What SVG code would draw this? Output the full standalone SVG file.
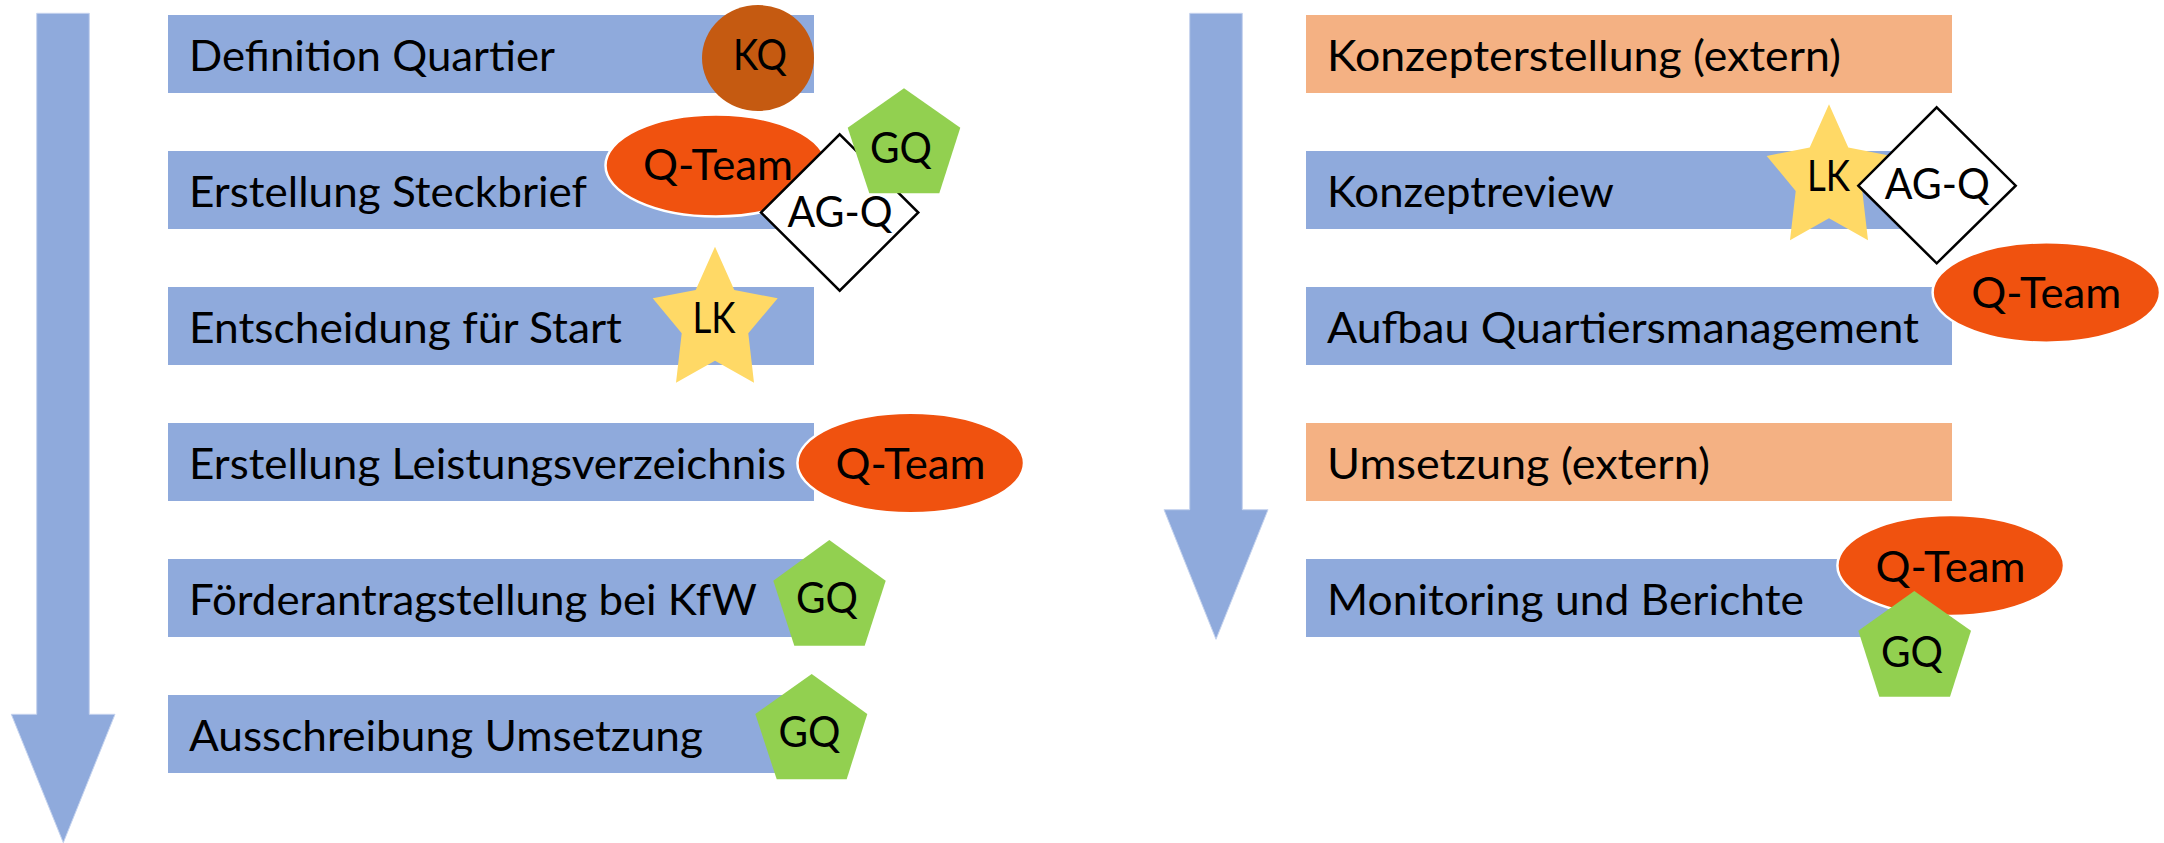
<svg xmlns="http://www.w3.org/2000/svg" width="2164" height="843" viewBox="0 0 2164 843">
<style>
text{font-family:Lato,"Liberation Sans",sans-serif;font-size:43px;fill:#000}
.lbl{text-anchor:start}
.c{text-anchor:middle}
.step{fill:#8FAADC}
.ext{fill:#F4B183}
.arrow{fill:#8FAADC;stroke:#C5D3EE;stroke-width:1}
.kq{fill:#C55A11}
.qt{fill:#F0520F;stroke:#FFFFFF;stroke-width:2.5}
.gq{fill:#92D050}
.lk{fill:#FFD966}
.ag{fill:#FFFFFF;stroke:#000;stroke-width:2.5}
</style>
<rect width="2164" height="843" fill="#FFFFFF"/>
<g id="connectors">
<polygon class="arrow" points="36.7,13.3 89.3,13.3 89.3,714.3 115,714.3 63.3,842.7 11.3,714.3 36.7,714.3"/>
<polygon class="arrow" points="1189.7,13.3 1242.3,13.3 1242.3,509.7 1268,509.7 1216,639.3 1164,509.7 1189.7,509.7"/>
</g>
<g id="step-definition-quartier">
<rect class="step" x="168" y="15" width="646" height="78"/>
<text class="lbl" x="189" y="70.5" textLength="366" lengthAdjust="spacingAndGlyphs">Definition Quartier</text>
</g>
<g id="step-erstellung-steckbrief">
<rect class="step" x="168" y="151" width="646" height="78"/>
<text class="lbl" x="189" y="206.5" textLength="398" lengthAdjust="spacingAndGlyphs">Erstellung Steckbrief</text>
</g>
<g id="step-entscheidung">
<rect class="step" x="168" y="287" width="646" height="78"/>
<text class="lbl" x="189" y="342.5" textLength="433" lengthAdjust="spacingAndGlyphs">Entscheidung für Start</text>
</g>
<g id="step-leistungsverzeichnis">
<rect class="step" x="168" y="423" width="646" height="78"/>
<text class="lbl" x="189" y="478.5" textLength="597" lengthAdjust="spacingAndGlyphs">Erstellung Leistungsverzeichnis</text>
</g>
<g id="step-foerderantrag">
<rect class="step" x="168" y="559" width="646" height="78"/>
<text class="lbl" x="189" y="614.5" textLength="568" lengthAdjust="spacingAndGlyphs">Förderantragstellung bei KfW</text>
</g>
<g id="step-ausschreibung">
<rect class="step" x="168" y="695" width="646" height="78"/>
<text class="lbl" x="189" y="750.5" textLength="514" lengthAdjust="spacingAndGlyphs">Ausschreibung Umsetzung</text>
</g>
<g id="step-konzepterstellung">
<rect class="ext" x="1306" y="15" width="646" height="78"/>
<text class="lbl" x="1327" y="70.5" textLength="514" lengthAdjust="spacingAndGlyphs">Konzepterstellung (extern)</text>
</g>
<g id="step-konzeptreview">
<rect class="step" x="1306" y="151" width="646" height="78"/>
<text class="lbl" x="1327" y="206.5" textLength="287" lengthAdjust="spacingAndGlyphs">Konzeptreview</text>
</g>
<g id="step-aufbau">
<rect class="step" x="1306" y="287" width="646" height="78"/>
<text class="lbl" x="1327" y="342.5" textLength="592" lengthAdjust="spacingAndGlyphs">Aufbau Quartiersmanagement</text>
</g>
<g id="step-umsetzung">
<rect class="ext" x="1306" y="423" width="646" height="78"/>
<text class="lbl" x="1327" y="478.5" textLength="383" lengthAdjust="spacingAndGlyphs">Umsetzung (extern)</text>
</g>
<g id="step-monitoring">
<rect class="step" x="1306" y="559" width="646" height="78"/>
<text class="lbl" x="1327" y="614.5" textLength="477" lengthAdjust="spacingAndGlyphs">Monitoring und Berichte</text>
</g>
<g id="role-kq-1">
<ellipse class="kq" cx="758" cy="58" rx="56" ry="53"/>
<text class="c" x="760" y="70" textLength="54" lengthAdjust="spacingAndGlyphs">KQ</text>
</g>
<g id="role-qteam-1">
<ellipse class="qt" cx="716" cy="165.5" rx="110.5" ry="51"/>
<text class="c" x="718" y="180" textLength="150" lengthAdjust="spacingAndGlyphs">Q-Team</text>
</g>
<g id="role-agq-1">
<polygon class="ag" points="839.7,134.3 918.3,212.5 839.7,290.7 761,212.5"/>
<text class="c" x="840" y="226.7" textLength="105" lengthAdjust="spacingAndGlyphs">AG-Q</text>
</g>
<g id="role-gq-1">
<polygon class="gq" points="904,88.3 960.3,127.7 939.3,193.3 869.3,193.3 847.7,127.7"/>
<text class="c" x="901" y="163.3" textLength="62" lengthAdjust="spacingAndGlyphs">GQ</text>
</g>
<g id="role-lk-1">
<polygon class="lk" points="715,246.7 734.3,290 777.7,298.3 748.3,333.3 754,382.7 715,360.7 676,382.7 681.7,333.3 652.7,298.3 695.7,290"/>
<text class="c" x="714" y="333.3" textLength="43" lengthAdjust="spacingAndGlyphs">LK</text>
</g>
<g id="role-qteam-2">
<ellipse class="qt" cx="910.7" cy="463" rx="113.3" ry="50.3"/>
<text class="c" x="910.5" y="479" textLength="150" lengthAdjust="spacingAndGlyphs">Q-Team</text>
</g>
<g id="role-gq-2">
<polygon class="gq" points="829.3,540 885.7,580.7 864.7,645.7 794.3,645.7 773.3,580.7"/>
<text class="c" x="827" y="613.3" textLength="62" lengthAdjust="spacingAndGlyphs">GQ</text>
</g>
<g id="role-gq-3">
<polygon class="gq" points="811.7,674 867.3,714 846.7,779.3 776.7,779.3 755.3,714"/>
<text class="c" x="809.5" y="746.7" textLength="62" lengthAdjust="spacingAndGlyphs">GQ</text>
</g>
<g id="role-lk-2">
<polygon class="lk" points="1829,104.3 1848.3,147.6 1891.7,155.9 1862.3,190.9 1868,240.3 1829,218.3 1790,240.3 1795.7,190.9 1766.7,155.9 1809.7,147.6"/>
<text class="c" x="1828.5" y="191" textLength="43" lengthAdjust="spacingAndGlyphs">LK</text>
</g>
<g id="role-agq-2">
<polygon class="ag" points="1936.7,107.3 2015.7,185.7 1936.7,263.3 1858.3,185.7"/>
<text class="c" x="1937.3" y="199.3" textLength="105" lengthAdjust="spacingAndGlyphs">AG-Q</text>
</g>
<g id="role-qteam-3">
<ellipse class="qt" cx="2046.3" cy="292.5" rx="113.7" ry="50.2"/>
<text class="c" x="2046.3" y="308.3" textLength="150" lengthAdjust="spacingAndGlyphs">Q-Team</text>
</g>
<g id="role-qteam-4">
<ellipse class="qt" cx="1950.7" cy="565.5" rx="113.3" ry="50.5"/>
<text class="c" x="1950.5" y="581.7" textLength="150" lengthAdjust="spacingAndGlyphs">Q-Team</text>
</g>
<g id="role-gq-4">
<polygon class="gq" points="1914.3,591 1971,630.7 1950,696.7 1879.3,696.7 1858.3,630.7"/>
<text class="c" x="1912" y="666.7" textLength="62" lengthAdjust="spacingAndGlyphs">GQ</text>
</g>
</svg>
